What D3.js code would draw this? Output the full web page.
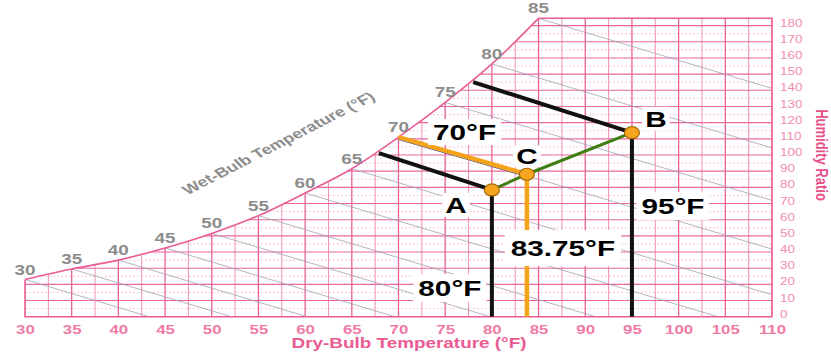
<!DOCTYPE html>
<html>
<head>
<meta charset="utf-8">
<script src="https://cdn.jsdelivr.net/npm/d3@7"></script>
<style>
  html, body { margin: 0; padding: 0; background: #fff; }
  svg { display: block; }
</style>
</head>
<body>
<svg id="chart" width="831" height="354"></svg>
<script>
// ---- Saturation curve: dry-bulb (°F) and humidity ratio (grains / lb dry air)
const satTemps  = [30, 35, 40, 45, 50, 55, 60, 65, 70, 75, 80, 85];
const satGrains = [23, 29.5, 35, 42.5, 51.5, 62.5, 76.5, 91.5, 111, 132.5, 156.3, 184.5];

// ---- Constant wet-bulb lines: they leave the saturation curve and run to the chart border
const wbTemps      = [30, 35, 40, 45, 50, 55, 60, 65, 70, 75, 80, 85];
const wbEndTemps   = [43.3, 52.1, 60.2, 69.6, 79.8, 91.1, 104.2, 110, 110, 110, 110, 110];
const wbEndGrains  = [0, 0, 0, 0, 0, 0, 0, 13.6, 41.8, 71.9, 104.4, 141.2];

// ---- Axis tick labels
const dryBulbTicks  = [30, 35, 40, 45, 50, 55, 60, 65, 70, 75, 80, 85, 90, 95, 100, 105, 110];
const humidityTicks = [0, 10, 20, 30, 40, 50, 60, 70, 80, 90, 100, 110, 120, 130, 140, 150, 160, 170, 180];

// ---- Air states: A and B are mixed into C
const stateNames      = ["A", "C", "B"];
const stateDryBulb    = [80, 83.75, 95];
const stateGrains     = [78.4, 88.1, 113.8];
const stateWetBulb    = [65, 70, 75];
const wbLineStartTemp = [67.9, 70, 78];
const wbLineStartGr   = [101.2, 111.1, 145.1];

// ---------------------------------------------------------------
const svg = d3.select("#chart");
const SX = 1.35;                       // horizontal stretch applied to all lettering
const chartFont = "'Liberation Sans', Arial, sans-serif";

const x = d3.scaleLinear().domain([30, 110]).range([25, 772]);
const y = d3.scaleLinear().domain([0, 180]).range([316.7, 25.64]);

svg.append("rect").attr("width", 831).attr("height", 354).attr("fill", "#fff");

const sat = satTemps.map((t, i) => ({ t, w: satGrains[i] }));
const tTop = satTemps[satTemps.length - 1];
const wTop = satGrains[satGrains.length - 1];

// clip region: under the saturation curve plus the block to the right of it
const defs = svg.append("defs");
const clip = defs.append("clipPath").attr("id", "chartArea");
const area = d3.area().x(d => x(d.t)).y0(y(0)).y1(d => y(d.w)).curve(d3.curveMonotoneX);
clip.append("path").attr("d", area(sat));
clip.append("rect")
  .attr("x", x(tTop) - 0.5).attr("y", y(wTop))
  .attr("width", x(110) - x(tTop) + 0.5).attr("height", y(0) - y(wTop));

const grid = svg.append("g").attr("clip-path", "url(#chartArea)");

// faint half-step lines
grid.selectAll("line.sub")
  .data(d3.range(5, 186, 10))
  .join("line")
  .attr("x1", x(30)).attr("x2", x(110))
  .attr("y1", d => y(d)).attr("y2", d => y(d))
  .attr("stroke", "#f5b8ce").attr("stroke-width", 0.8).attr("stroke-dasharray", "2,2");

// vertical dry-bulb grid
grid.selectAll("line.v")
  .data(d3.range(30, 110.01, 2.5))
  .join("line")
  .attr("x1", d => x(d)).attr("x2", d => x(d))
  .attr("y1", y(0)).attr("y2", y(wTop))
  .attr("stroke", d => d % 5 === 0 ? "#ea6296" : "#f092b5")
  .attr("stroke-width", d => d % 5 === 0 ? 1.3 : 1);

// horizontal humidity grid
grid.selectAll("line.h")
  .data(d3.range(0, 181, 10))
  .join("line")
  .attr("x1", x(30)).attr("x2", x(110))
  .attr("y1", d => y(d)).attr("y2", d => y(d))
  .attr("stroke", "#ea6a9b").attr("stroke-width", 1.1);

// grey wet-bulb lines
grid.selectAll("line.wb")
  .data(wbTemps)
  .join("line")
  .attr("x1", d => x(d))
  .attr("y1", d => y(satGrains[satTemps.indexOf(d)]))
  .attr("x2", (d, i) => x(wbEndTemps[i]))
  .attr("y2", (d, i) => y(wbEndGrains[i]))
  .attr("stroke", "#9c9cb0").attr("stroke-width", 1).attr("opacity", 0.75);

// saturation curve + chart border
const satLine = d3.line().x(d => x(d.t)).y(d => y(d.w)).curve(d3.curveMonotoneX);
svg.append("path").attr("d", satLine(sat))
  .attr("fill", "none").attr("stroke", "#ec5c95").attr("stroke-width", 1.6);
svg.append("path")
  .attr("d", `M${x(tTop)},${y(wTop)}H${x(110)}V${y(0)}H${x(30)}V${y(satGrains[0])}`)
  .attr("fill", "none").attr("stroke", "#ec5c95").attr("stroke-width", 1.5);

// wet-bulb temperature labels along the saturation curve
svg.append("g").selectAll("text")
  .data(wbTemps)
  .join("text")
  .attr("transform", d => `translate(${x(d)},${y(satGrains[satTemps.indexOf(d)]) - 5}) scale(${SX},1)`)
  .attr("text-anchor", "middle")
  .attr("font-family", chartFont).attr("font-weight", "bold").attr("font-size", 14)
  .attr("fill", "#8d8d8d")
  .text(d => d);

svg.append("text")
  .attr("transform", `translate(282,147) scale(${SX},1) rotate(-34.6)`)
  .attr("text-anchor", "middle")
  .attr("font-family", chartFont).attr("font-weight", "bold").attr("font-size", 13.5)
  .attr("fill", "#8d8d8d")
  .text("Wet-Bulb Temperature (°F)");

// bottom axis
const gx = svg.append("g").attr("transform", "translate(0,329)")
  .call(d3.axisBottom(x).tickValues(dryBulbTicks).tickSize(0).tickPadding(0));
gx.select(".domain").remove();
gx.attr("font-family", chartFont).attr("font-size", 12.5).attr("font-weight", "bold").attr("color", "#f07aa6");
gx.selectAll("text").attr("y", 0).attr("dy", "0.36em").attr("transform", `scale(${SX},1)`);

svg.append("text")
  .attr("transform", `translate(409,348) scale(${SX},1)`)
  .attr("text-anchor", "middle")
  .attr("font-family", chartFont).attr("font-weight", "bold").attr("font-size", 14)
  .attr("fill", "#ea5a93")
  .text("Dry-Bulb Temperature (°F)");

// right axis
const gy = svg.append("g").attr("transform", "translate(780,-2.6)")
  .call(d3.axisRight(y).tickValues(humidityTicks).tickSize(0).tickPadding(0));
gy.select(".domain").remove();
gy.attr("font-family", chartFont).attr("font-size", 10).attr("color", "#f18db2");
gy.selectAll("text").attr("x", 0).attr("transform", `scale(${SX},1)`);

svg.append("text")
  .attr("transform", `translate(816,155) scale(1.25,1) rotate(90)`)
  .attr("text-anchor", "middle")
  .attr("font-family", chartFont).attr("font-weight", "bold").attr("font-size", 13)
  .attr("fill", "#e8508a")
  .text("Humidity Ratio");

// ---- process: states, their wet-bulb lines and dry-bulb drop lines
const states = stateNames.map((n, i) => ({
  name: n, t: stateDryBulb[i], w: stateGrains[i], wb: stateWetBulb[i],
  t0: wbLineStartTemp[i], w0: wbLineStartGr[i]
}));
const byName = Object.fromEntries(states.map(s => [s.name, s]));
const stateColor = { A: "#111", C: "#f5a31a", B: "#111" };

const proc = svg.append("g");

// navy edge under the orange wet-bulb line
const sC = byName.C;
proc.append("line")
  .attr("x1", x(sC.t0)).attr("y1", y(sC.w0) + 2.4)
  .attr("x2", x(sC.t)).attr("y2", y(sC.w) + 2.4)
  .attr("stroke", "#2d3f93").attr("stroke-width", 1);

proc.selectAll("line.wbl")
  .data(states)
  .join("line")
  .attr("x1", d => x(d.t0)).attr("y1", d => y(d.w0))
  .attr("x2", d => x(d.t)).attr("y2", d => y(d.w))
  .attr("stroke", d => stateColor[d.name]).attr("stroke-width", d => d.name === "C" ? 4.5 : 4);

proc.selectAll("line.drop")
  .data(states)
  .join("line")
  .attr("x1", d => x(d.t)).attr("y1", d => y(d.w))
  .attr("x2", d => x(d.t)).attr("y2", y(0))
  .attr("stroke", d => stateColor[d.name]).attr("stroke-width", d => d.name === "C" ? 4.5 : 4);

// mixing line A - C - B
proc.append("path")
  .attr("d", d3.line().x(d => x(d.t)).y(d => y(d.w))([byName.A, byName.C, byName.B]))
  .attr("fill", "none").attr("stroke", "#3f7e12").attr("stroke-width", 3);

// labels on white plates
const annFont = "'Liberation Sans', Arial, sans-serif";
const fmtT = d => `${d}°F`;
const labels = [
  { text: "A", cx: x(byName.A.t) - 36, cy: y(byName.A.w) + 15, px: 3, py: 4 },
  { text: "C", cx: x(byName.C.t), cy: y(byName.C.w) - 18, px: 3, py: 3 },
  { text: "B", cx: x(byName.B.t) + 24, cy: y(byName.B.w) - 14, px: 3, py: 4 },
  { text: fmtT(byName.A.t), cx: x(byName.A.t) - 42, cy: y(0) - 28.7, px: 5, py: 6 },
  { text: fmtT(byName.C.t), cx: x(byName.C.t) + 36, cy: y(0) - 68.7, px: 6, py: 10 },
  { text: fmtT(byName.B.t), cx: x(byName.B.t) + 41, cy: y(0) - 110.7, px: 5, py: 6 },
  { text: fmtT(byName.C.wb), cx: x(byName.C.t0) + 66, cy: y(byName.C.w0) - 5, px: 5, py: 5 }
];
const lg = svg.append("g").selectAll("g")
  .data(labels)
  .join("g")
  .attr("transform", d => `translate(${d.cx},${d.cy}) scale(${SX},1)`);
lg.append("text")
  .attr("text-anchor", "middle")
  .attr("dy", "0.36em")
  .attr("font-family", annFont).attr("font-weight", "bold").attr("font-size", 22)
  .attr("fill", "#000")
  .text(d => d.text);
lg.each(function (d) {
  const b = d3.select(this).select("text").node().getBBox();
  const capTop = -0.36 * 22, capBot = 0.36 * 22;
  d3.select(this).insert("rect", "text")
    .attr("x", b.x - d.px / SX).attr("width", b.width + 2 * d.px / SX)
    .attr("y", capTop - d.py).attr("height", capBot - capTop + 2 * d.py)
    .attr("fill", "#fff");
});

// state markers, drawn on top of everything
svg.append("g").selectAll("ellipse")
  .data(states)
  .join("ellipse")
  .attr("cx", d => x(d.t)).attr("cy", d => y(d.w))
  .attr("rx", 7.5).attr("ry", 6)
  .attr("fill", "#f6a51f").attr("stroke", "#a8680a").attr("stroke-width", 1.2);
</script>
</body>
</html>
